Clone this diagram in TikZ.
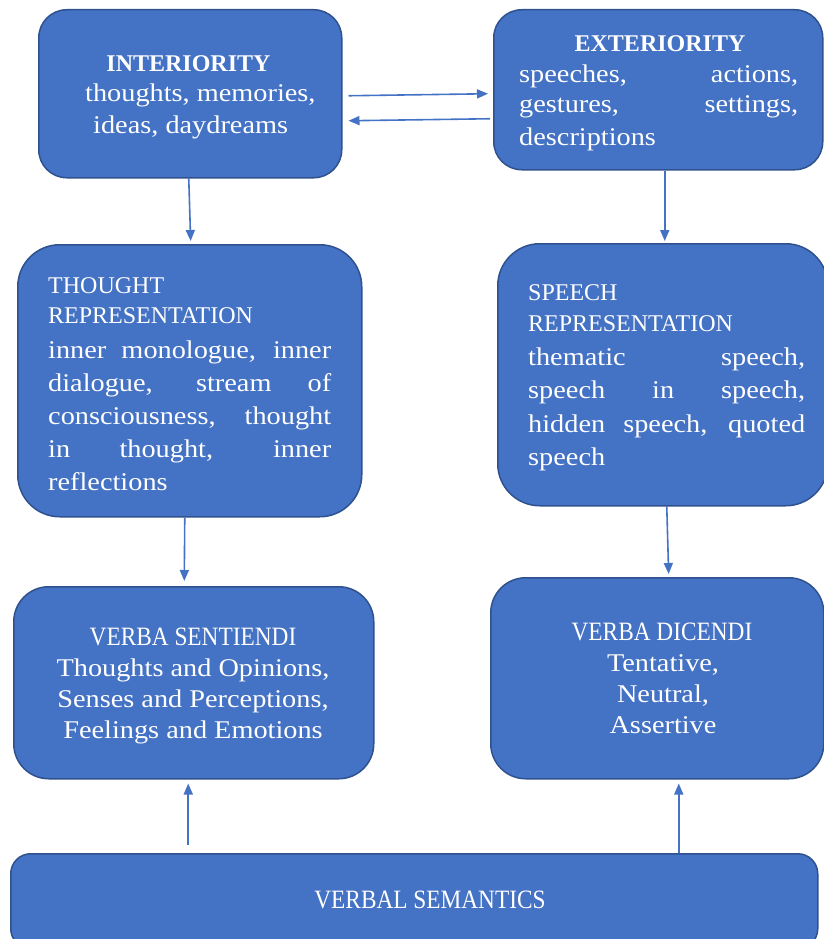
\documentclass[tikz,border=0pt]{standalone}
\usepackage{fontspec}
\setmainfont{Liberation Serif}
\newfontfamily\widefont[FakeStretch=1.11]{Liberation Serif}
\newfontfamily\narrowfont[FakeStretch=0.88]{Liberation Serif}
\usetikzlibrary{arrows.meta,calc}
\definecolor{boxblue}{HTML}{4472C4}
\definecolor{boxedge}{HTML}{2F528F}
\newcommand\capsz{\fontsize{24}{28}\selectfont}
\newcommand\tallcaps{\narrowfont\fontsize{26.5}{30}\selectfont}
\newcommand\bodysz{\widefont\fontsize{25.5}{30}\selectfont}
\tikzset{
  box/.style={draw=boxedge, fill=boxblue, line width=1.5pt, anchor=north west, inner sep=0pt},
  txt/.style={text=white, inner sep=0pt, anchor=base west},
  ctxt/.style={text=white, inner sep=0pt, anchor=base},
  arr/.style={draw=boxblue, line width=1.6pt, -{Triangle[length=11pt,width=9pt]}}
}
\begin{document}
\begin{tikzpicture}[x=1pt,y=-1pt]
\useasboundingbox (0,0) rectangle (823,939);
% boxes
\node[box, rounded corners=28pt, minimum width=303pt, minimum height=168pt] (int) at (38,9) {};
\node[box, rounded corners=28pt, minimum width=329pt, minimum height=160pt] (ext) at (493,9) {};
\node[box, rounded corners=42pt, minimum width=344pt, minimum height=272pt] (th) at (17,244) {};
\node[box, rounded corners=42pt, minimum width=330pt, minimum height=262pt] (sp) at (497,243) {};
\node[box, rounded corners=35pt, minimum width=360pt, minimum height=192pt] (sen) at (13,586) {};
\node[box, rounded corners=35pt, minimum width=333pt, minimum height=201pt] (dic) at (490,577) {};
\node[box, rounded corners=20pt, minimum width=807pt, minimum height=95pt] (vs) at (10,853) {};
% interiority text
\node[ctxt, font=\capsz\bfseries] (intT) at (188.5,72) {INTERIORITY};
\node[txt, font=\bodysz] (intA) at (85,102) {thoughts, memories,};
\node[txt, font=\bodysz] (intB) at (93,133) {ideas, daydreams};
% exteriority text
\node[ctxt, font=\capsz\bfseries] (extT) at (660,52) {EXTERIORITY};
\node[txt, font=\bodysz] (extA) at (519,83) {\makebox[279pt][s]{speeches, actions,}};
\node[txt, font=\bodysz] (extB) at (519,113) {\makebox[279pt][s]{gestures, settings,}};
\node[txt, font=\bodysz] (extC) at (519,145) {descriptions};
% thought representation
\node[txt, font=\capsz] (thT1) at (48,293) {THOUGHT};
\node[txt, font=\capsz] (thT2) at (48,323) {REPRESENTATION};
\node[txt, font=\bodysz] (thA) at (48,358) {\makebox[283pt][s]{inner monologue, inner}};
\node[txt, font=\bodysz] (thB) at (48,391) {\makebox[283pt][s]{dialogue, stream of}};
\node[txt, font=\bodysz] (thC) at (48,424) {\makebox[283pt][s]{consciousness, thought}};
\node[txt, font=\bodysz] (thD) at (48,457) {\makebox[283pt][s]{in thought, inner}};
\node[txt, font=\bodysz] (thE) at (48,490) {reflections};
% speech representation
\node[txt, font=\capsz] (spT1) at (528,300) {SPEECH};
\node[txt, font=\capsz] (spT2) at (528,331) {REPRESENTATION};
\node[txt, font=\bodysz] (spA) at (528,365) {\makebox[277pt][s]{thematic speech,}};
\node[txt, font=\bodysz] (spB) at (528,398) {\makebox[277pt][s]{speech in speech,}};
\node[txt, font=\bodysz] (spC) at (528,432) {\makebox[277pt][s]{hidden speech, quoted}};
\node[txt, font=\bodysz] (spD) at (528,465) {speech};
% verba sentiendi
\node[ctxt, font=\tallcaps] (senT) at (193,645) {VERBA SENTIENDI};
\node[ctxt, font=\bodysz] (senA) at (193,676) {Thoughts and Opinions,};
\node[ctxt, font=\bodysz] (senB) at (193,707) {Senses and Perceptions,};
\node[ctxt, font=\bodysz] (senC) at (193,738) {Feelings and Emotions};
% verba dicendi
\node[ctxt, font=\tallcaps] (dicT) at (662,640) {VERBA DICENDI};
\node[ctxt, font=\bodysz] (dicA) at (663,671) {Tentative,};
\node[ctxt, font=\bodysz] (dicB) at (663,702) {Neutral,};
\node[ctxt, font=\bodysz] (dicC) at (663,733) {Assertive};
% verbal semantics
\node[ctxt, font=\tallcaps] (vsT) at (430,908) {VERBAL SEMANTICS};
% arrows
\draw[arr] ($(int.east)+(6,2)$) -- ($(ext.west)+(-5,4)$);
\draw[arr] ($(ext.west)+(-3,29)$) -- ($(int.east)+(6,27)$);
\draw[arr, shorten >=3pt] ($(int.south)+(-1.5,0)$) -- ($(th.north)+(1,0)$);
\draw[arr, shorten >=2pt] ($(ext.south)+(6.5,0)$) -- ($(sp.north)+(2,0)$);
\draw[arr, shorten >=5pt] ($(th.south)+(-5,0)$) -- ($(sen.north)+(-9.5,0)$);
\draw[arr, shorten >=3pt] ($(sp.south)+(4,0)$) -- ($(dic.north)+(11.5,0)$);
\draw[arr, shorten >=4pt] ($(sen.south |- vs.north)+(-5.5,-8)$) -- ($(sen.south)+(-5.5,0)$);
\draw[arr, shorten >=4pt] ($(dic.south |- vs.north)+(21.5,0)$) -- ($(dic.south)+(21.5,0)$);
\end{tikzpicture}
\end{document}
